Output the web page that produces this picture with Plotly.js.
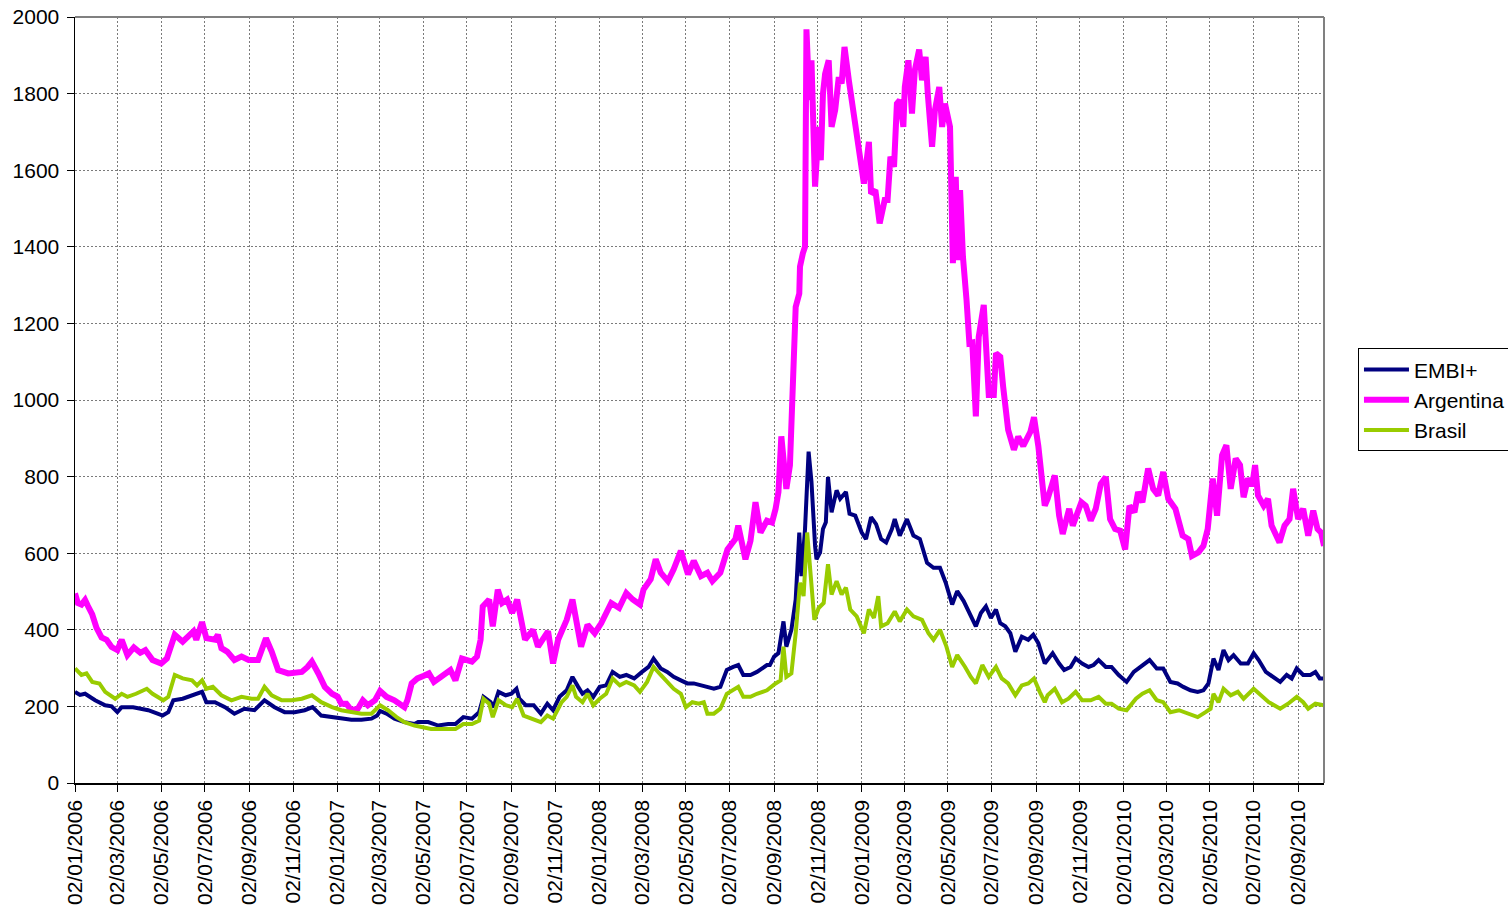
<!DOCTYPE html>
<html>
<head>
<meta charset="utf-8">
<script src="https://cdn.plot.ly/plotly-3.0.1.min.js"></script>
<style>html,body{margin:0;padding:0;background:#fff;}#chart{width:1508px;height:907px;}</style>
</head>
<body>
<div id="chart"></div>
<script>
const seriesNames = ["EMBI+", "Argentina", "Brasil"];

const embiDates = ["2006-01-02","2006-01-09","2006-01-16","2006-01-30","2006-02-13","2006-02-22","2006-03-02","2006-03-08","2006-03-24","2006-04-05","2006-04-14","2006-04-27","2006-05-04","2006-05-12","2006-05-19","2006-06-01","2006-06-14","2006-06-28","2006-07-04","2006-07-16","2006-07-30","2006-08-12","2006-08-26","2006-09-09","2006-09-23","2006-10-07","2006-10-21","2006-11-04","2006-11-18","2006-11-29","2006-12-11","2006-12-26",
"2007-01-08","2007-01-22","2007-02-05","2007-02-19","2007-02-27","2007-03-03","2007-03-12","2007-03-23","2007-04-06","2007-04-20","2007-04-25","2007-05-09","2007-05-23","2007-06-06","2007-06-16","2007-06-27","2007-07-09","2007-07-19","2007-07-25","2007-08-04","2007-08-08","2007-08-15","2007-08-25","2007-09-02","2007-09-09","2007-09-13","2007-09-22","2007-10-03","2007-10-13","2007-10-22","2007-10-30","2007-11-08","2007-11-18","2007-11-26","2007-12-04","2007-12-10","2007-12-17","2007-12-25",
"2008-01-03","2008-01-12","2008-01-21","2008-01-31","2008-02-09","2008-02-20","2008-03-02","2008-03-11","2008-03-18","2008-03-28","2008-04-06","2008-04-15","2008-04-25","2008-05-04","2008-05-13","2008-05-23","2008-06-01","2008-06-10","2008-06-19","2008-06-28","2008-07-07","2008-07-14","2008-07-21","2008-07-31","2008-08-09","2008-08-23","2008-08-27","2008-09-02","2008-09-08","2008-09-15","2008-09-19","2008-09-26","2008-10-02","2008-10-07","2008-10-10","2008-10-15","2008-10-20","2008-10-24","2008-10-29","2008-10-31","2008-11-05","2008-11-09","2008-11-13","2008-11-16","2008-11-21","2008-11-28","2008-12-03","2008-12-11","2008-12-16","2008-12-24",
"2009-01-02","2009-01-08","2009-01-15","2009-01-22","2009-01-29","2009-02-05","2009-02-13","2009-02-17","2009-02-24","2009-03-06","2009-03-15","2009-03-24","2009-04-03","2009-04-12","2009-04-21","2009-04-29","2009-05-08","2009-05-15","2009-05-24","2009-06-01","2009-06-10","2009-06-17","2009-06-24","2009-07-01","2009-07-08","2009-07-14","2009-07-21","2009-07-28","2009-08-04","2009-08-13","2009-08-22","2009-08-29","2009-09-05","2009-09-14","2009-09-18","2009-09-25","2009-10-04","2009-10-11","2009-10-20","2009-10-27","2009-11-05","2009-11-14","2009-11-21","2009-11-28","2009-12-08","2009-12-16","2009-12-26",
"2010-01-06","2010-01-16","2010-01-26","2010-02-07","2010-02-17","2010-02-26","2010-03-08","2010-03-18","2010-03-26","2010-04-05","2010-04-15","2010-04-23","2010-04-30","2010-05-07","2010-05-14","2010-05-21","2010-05-28","2010-06-04","2010-06-14","2010-06-24","2010-07-02","2010-07-09","2010-07-19","2010-07-28","2010-08-08","2010-08-17","2010-08-24","2010-08-31","2010-09-09","2010-09-19","2010-09-26","2010-10-02","2010-10-08"];
const embiValues = [238,230,233,216,203,200,185,198,198,194,190,181,176,185,216,220,229,238,211,211,198,181,194,190,216,198,185,185,190,198,176,172,
168,165,165,168,176,188,181,168,159,154,159,159,150,154,154,172,168,185,225,211,198,238,229,233,246,220,203,203,181,207,190,225,242,277,251,233,242,225,
251,255,290,277,282,273,290,303,325,299,290,277,268,260,260,255,251,246,251,295,303,308,282,282,290,308,308,330,339,422,356,400,479,654,540,663,865,786,619,584,602,663,681,799,707,764,742,760,703,698,
654,637,694,676,637,628,663,689,646,689,646,637,575,562,562,523,466,501,475,444,409,444,461,431,453,417,409,391,343,382,374,387,365,312,321,339,312,295,303,325,312,303,308,321,303,303,282,
264,290,303,321,299,299,264,260,251,242,238,242,260,325,295,347,321,334,312,312,339,321,290,277,264,282,273,299,282,282,290,273,273];

const argDates = ["2006-01-02","2006-01-06","2006-01-11","2006-01-16","2006-01-20","2006-01-26","2006-02-01","2006-02-08","2006-02-15","2006-02-22","2006-03-02","2006-03-08","2006-03-16","2006-03-25","2006-04-03","2006-04-10","2006-04-20","2006-05-02","2006-05-10","2006-05-17","2006-05-21","2006-06-01","2006-06-09","2006-06-16","2006-06-20","2006-06-28","2006-07-04","2006-07-16","2006-07-20","2006-07-25","2006-08-02","2006-08-12","2006-08-22","2006-09-01","2006-09-14","2006-09-21","2006-09-25","2006-10-03","2006-10-12","2006-10-26","2006-11-14","2006-11-22","2006-11-28","2006-12-07","2006-12-16","2006-12-26",
"2007-01-03","2007-01-08","2007-01-15","2007-01-22","2007-01-31","2007-02-07","2007-02-14","2007-02-24","2007-03-03","2007-03-12","2007-03-23","2007-04-06","2007-04-10","2007-04-16","2007-04-24","2007-05-03","2007-05-10","2007-05-17","2007-05-28","2007-06-09","2007-06-16","2007-06-25","2007-07-09","2007-07-16","2007-07-21","2007-07-24","2007-08-02","2007-08-07","2007-08-14","2007-08-20","2007-08-27","2007-09-03","2007-09-10","2007-09-14","2007-09-21","2007-10-02","2007-10-09","2007-10-23","2007-10-30","2007-11-06","2007-11-18","2007-11-26","2007-12-01","2007-12-08","2007-12-17","2007-12-27",
"2008-01-05","2008-01-19","2008-01-30","2008-02-09","2008-02-18","2008-02-28","2008-03-04","2008-03-14","2008-03-21","2008-03-28","2008-04-07","2008-04-15","2008-04-25","2008-05-05","2008-05-13","2008-05-23","2008-06-01","2008-06-08","2008-06-19","2008-06-29","2008-07-10","2008-07-14","2008-07-24","2008-07-31","2008-08-07","2008-08-14","2008-08-23","2008-08-30","2008-09-04","2008-09-08","2008-09-12","2008-09-19","2008-09-24","2008-09-28","2008-10-02","2008-10-07","2008-10-08","2008-10-12","2008-10-15","2008-10-17","2008-10-21","2008-10-24","2008-10-29","2008-11-03","2008-11-06","2008-11-09","2008-11-12","2008-11-17","2008-11-21","2008-11-26","2008-12-01","2008-12-05","2008-12-09","2008-12-15","2008-12-20","2008-12-25",
"2009-01-01","2009-01-05","2009-01-12","2009-01-15","2009-01-21","2009-01-27","2009-02-03","2009-02-07","2009-02-11","2009-02-16","2009-02-20","2009-02-24","2009-03-01","2009-03-03","2009-03-08","2009-03-13","2009-03-17","2009-03-23","2009-03-27","2009-04-01","2009-04-04","2009-04-10","2009-04-14","2009-04-20","2009-04-24","2009-04-28","2009-05-05","2009-05-09","2009-05-13","2009-05-16","2009-05-19","2009-05-23","2009-05-28","2009-06-01","2009-06-05","2009-06-10","2009-06-14","2009-06-21","2009-06-28","2009-07-05","2009-07-08","2009-07-14","2009-07-18","2009-07-25","2009-08-02","2009-08-08","2009-08-15","2009-08-19","2009-08-25","2009-08-30","2009-09-05","2009-09-14","2009-09-18","2009-09-28","2009-10-04","2009-10-09","2009-10-18","2009-10-23","2009-11-04","2009-11-10","2009-11-17","2009-11-24","2009-12-01","2009-12-08","2009-12-14","2009-12-21","2009-12-28",
"2010-01-04","2010-01-10","2010-01-17","2010-01-22","2010-01-28","2010-02-05","2010-02-12","2010-02-19","2010-02-26","2010-03-05","2010-03-15","2010-03-25","2010-04-02","2010-04-07","2010-04-16","2010-04-23","2010-04-29","2010-05-06","2010-05-12","2010-05-19","2010-05-25","2010-05-31","2010-06-07","2010-06-13","2010-06-18","2010-06-24","2010-06-30","2010-07-04","2010-07-08","2010-07-16","2010-07-22","2010-07-27","2010-08-07","2010-08-14","2010-08-21","2010-08-26","2010-09-02","2010-09-09","2010-09-16","2010-09-23","2010-09-29","2010-10-04","2010-10-08"];
const argValues = [495,470,466,478,462,440,405,380,374,355,347,374,334,354,340,347,321,312,325,360,387,369,382,396,374,420,378,374,387,352,343,321,330,321,321,365,378,343,295,286,290,303,317,286,251,233,
225,207,207,190,194,216,203,216,240,225,216,198,216,260,273,280,286,264,277,295,268,325,317,330,374,461,479,409,505,470,479,444,479,435,374,400,356,396,312,374,426,479,417,356,413,391,
417,470,457,496,479,466,505,532,584,549,527,558,606,545,580,540,549,527,549,610,637,672,584,632,733,654,685,680,716,760,905,768,830,1078,1243,1278,1348,1383,1400,1968,1783,1887,1557,1713,1626,1800,1852,1887,1713,1757,1843,1826,1922,1835,1765,1722,
1609,1565,1674,1539,1548,1461,1522,1522,1635,1609,1774,1783,1713,1817,1887,1748,1861,1915,1835,1896,1800,1661,1757,1817,1713,1774,1713,1357,1583,1365,1548,1374,1261,1148,1150,957,1165,1248,1013,1013,1122,1113,1035,922,870,904,880,896,917,955,880,724,742,803,698,650,716,672,733,724,685,716,781,799,689,663,659,
610,724,707,760,733,821,768,751,812,742,716,646,637,593,602,619,663,795,698,856,882,768,847,830,746,795,777,830,751,724,742,672,628,672,689,768,689,716,646,711,663,654,619];

const braDates = ["2006-01-02","2006-01-11","2006-01-18","2006-01-26","2006-02-05","2006-02-13","2006-02-27","2006-03-08","2006-03-16","2006-03-28","2006-04-12","2006-04-20","2006-05-05","2006-05-12","2006-05-21","2006-06-01","2006-06-14","2006-06-21","2006-06-28","2006-07-04","2006-07-13","2006-07-25","2006-08-08","2006-08-22","2006-09-05","2006-09-14","2006-09-23","2006-10-03","2006-10-17","2006-10-31","2006-11-14","2006-11-28","2006-12-11","2006-12-26",
"2007-01-08","2007-01-22","2007-02-05","2007-02-19","2007-03-03","2007-03-14","2007-03-26","2007-04-06","2007-04-20","2007-05-13","2007-05-31","2007-06-16","2007-06-27","2007-07-09","2007-07-19","2007-07-25","2007-08-02","2007-08-07","2007-08-15","2007-08-25","2007-09-03","2007-09-10","2007-09-19","2007-10-02","2007-10-13","2007-10-22","2007-10-30","2007-11-11","2007-11-18","2007-11-26","2007-12-01","2007-12-10","2007-12-17","2007-12-25",
"2008-01-03","2008-01-12","2008-01-21","2008-01-31","2008-02-09","2008-02-20","2008-02-28","2008-03-09","2008-03-18","2008-03-28","2008-04-06","2008-04-15","2008-04-25","2008-05-02","2008-05-11","2008-05-20","2008-05-27","2008-06-01","2008-06-10","2008-06-19","2008-06-28","2008-07-07","2008-07-14","2008-07-21","2008-07-31","2008-08-09","2008-08-23","2008-09-04","2008-09-11","2008-09-15","2008-09-19","2008-09-26","2008-10-02","2008-10-08","2008-10-13","2008-10-18","2008-10-23","2008-10-28","2008-11-03","2008-11-10","2008-11-16","2008-11-21","2008-11-28","2008-12-05","2008-12-11","2008-12-17","2008-12-26",
"2009-01-05","2009-01-12","2009-01-19","2009-01-25","2009-01-29","2009-02-07","2009-02-17","2009-02-24","2009-03-06","2009-03-15","2009-03-27","2009-04-05","2009-04-12","2009-04-21","2009-04-30","2009-05-08","2009-05-15","2009-05-26","2009-06-03","2009-06-10","2009-06-19","2009-06-28","2009-07-08","2009-07-16","2009-07-25","2009-08-04","2009-08-13","2009-08-22","2009-08-30","2009-09-07","2009-09-14","2009-09-18","2009-09-28","2009-10-08","2009-10-17","2009-10-27","2009-11-05","2009-11-17","2009-11-28","2009-12-08","2009-12-16","2009-12-26",
"2010-01-06","2010-01-19","2010-01-28","2010-02-07","2010-02-17","2010-02-26","2010-03-08","2010-03-20","2010-04-01","2010-04-15","2010-04-26","2010-05-03","2010-05-07","2010-05-14","2010-05-21","2010-05-31","2010-06-10","2010-06-18","2010-07-02","2010-07-12","2010-07-23","2010-08-08","2010-08-19","2010-08-31","2010-09-09","2010-09-16","2010-09-26","2010-10-08"];
const braValues = [299,282,286,264,260,238,220,233,225,233,246,233,216,225,282,273,268,255,268,246,251,229,216,225,220,220,251,229,216,216,220,229,211,198,
190,185,181,181,203,190,172,159,150,141,141,141,154,154,163,220,207,172,216,203,198,220,176,168,159,176,168,211,225,255,225,211,233,203,
220,233,273,255,264,255,238,264,303,282,264,246,233,198,211,207,211,181,181,194,233,242,251,225,225,233,242,260,268,356,277,286,391,523,488,654,549,426,457,470,571,492,527,492,510,453,435,
391,453,431,488,409,417,448,422,453,435,426,391,374,400,356,303,334,303,277,260,308,277,303,273,260,229,255,260,273,238,211,229,246,211,220,238,216,216,225,207,207,194,
190,220,233,242,216,211,185,190,181,172,185,194,233,211,246,229,238,220,246,229,211,194,207,225,211,194,207,203];

const tickDates = ["2006-01-02","2006-03-02","2006-05-02","2006-07-02","2006-09-02","2006-11-02","2007-01-02","2007-03-02","2007-05-02","2007-07-02","2007-09-02","2007-11-02","2008-01-02","2008-03-02","2008-05-02","2008-07-02","2008-09-02","2008-11-02","2009-01-02","2009-03-02","2009-05-02","2009-07-02","2009-09-02","2009-11-02","2010-01-02","2010-03-02","2010-05-02","2010-07-02","2010-09-02"];
const tickLabels = ["02/01/2006","02/03/2006","02/05/2006","02/07/2006","02/09/2006","02/11/2006","02/01/2007","02/03/2007","02/05/2007","02/07/2007","02/09/2007","02/11/2007","02/01/2008","02/03/2008","02/05/2008","02/07/2008","02/09/2008","02/11/2008","02/01/2009","02/03/2009","02/05/2009","02/07/2009","02/09/2009","02/11/2009","02/01/2010","02/03/2010","02/05/2010","02/07/2010","02/09/2010"];
const yTicks = [0,200,400,600,800,1000,1200,1400,1600,1800,2000];

const FONT = "Arial, 'Liberation Sans', sans-serif";

const traces = [
  {x: embiDates, y: embiValues, name: seriesNames[0], type: "scatter", mode: "lines", line: {color: "#000080", width: 4}},
  {x: argDates, y: argValues, name: seriesNames[1], type: "scatter", mode: "lines", line: {color: "#FF00FF", width: 6}},
  {x: braDates, y: braValues, name: seriesNames[2], type: "scatter", mode: "lines", line: {color: "#99CC00", width: 4}}
];

const layout = {
  width: 1508, height: 907,
  margin: {l: 75, r: 184, t: 17, b: 124, autoexpand: false},
  paper_bgcolor: "#ffffff", plot_bgcolor: "#ffffff",
  font: {family: FONT, size: 21, color: "#000"},
  showlegend: true,
  legend: {
    x: 1.0272, y: 0.5675, xanchor: "left", yanchor: "top",
    bordercolor: "#000", borderwidth: 1, bgcolor: "#fff",
    font: {family: FONT, size: 21, color: "#000"},
    itemwidth: 45
  },
  xaxis: {
    type: "date",
    range: ["2006-01-02", "2010-10-08"],
    tickmode: "array", tickvals: tickDates, ticktext: tickLabels,
    tickangle: -90,
    ticks: "outside", ticklen: 7, tickcolor: "#000", tickwidth: 1,
    showgrid: true, gridcolor: "#7a7a7a", gridwidth: 1, griddash: "2px,2px",
    showline: true, linecolor: "#000", linewidth: 1.5,
    zeroline: false,
    tickfont: {family: FONT, size: 21, color: "#000"}
  },
  yaxis: {
    range: [0, 2000],
    tickmode: "array", tickvals: yTicks, ticktext: yTicks.map(String),
    ticks: "outside", ticklen: 7, tickcolor: "#000", tickwidth: 1,
    showgrid: true, gridcolor: "#7a7a7a", gridwidth: 1, griddash: "2px,2px",
    showline: true, linecolor: "#000", linewidth: 1.5,
    zeroline: false,
    ticklabelstandoff: 3,
    tickfont: {family: FONT, size: 21, color: "#000"}
  },
  shapes: [
    {type: "line", xref: "paper", yref: "paper", x0: 0, x1: 1, y0: 1, y1: 1, line: {color: "#808080", width: 2}},
    {type: "line", xref: "paper", yref: "paper", x0: 1, x1: 1, y0: 0, y1: 1, line: {color: "#808080", width: 2}}
  ]
};

Plotly.newPlot("chart", traces, layout, {displayModeBar: false, staticPlot: true});
</script>
</body>
</html>
